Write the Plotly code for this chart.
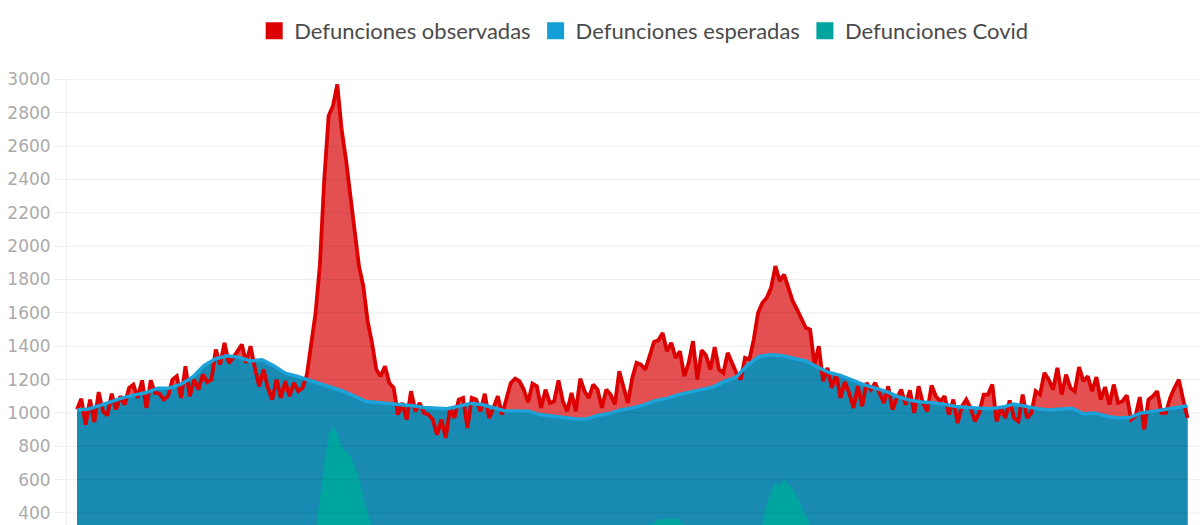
import pandas as pd
import plotly.graph_objects as go

# ---------------- data ----------------
OBS_START = "2019-10-01"      # observed deaths, one value every 3 days
observed = [
    1020, 1085, 930, 1080, 945, 1125, 1010, 985, 1115, 1020,
    1100, 1050, 1150, 1170, 1090, 1195, 1030, 1195, 1120, 1115,
    1080, 1100, 1200, 1220, 1090, 1280, 1100, 1200, 1140, 1230,
    1185, 1200, 1380, 1290, 1420, 1300, 1330, 1370, 1410, 1300,
    1400, 1270, 1160, 1260, 1150, 1080, 1200, 1090, 1190, 1100,
    1180, 1130, 1150, 1230, 1400, 1600, 1890, 2400, 2780, 2840,
    2970, 2700, 2520, 2300, 2080, 1880, 1760, 1550, 1420, 1260,
    1220, 1280, 1180, 1150, 990, 1060, 960, 1130, 1010, 1060,
    1000, 990, 960, 870, 960, 850, 1030, 970, 1080, 1090,
    910, 1090, 1080, 1010, 1115, 970, 1030, 1100, 990, 1090,
    1180, 1205, 1190, 1140, 1065, 1175, 1160, 1030, 1140, 1060,
    1070, 1195, 1070, 1010, 1120, 1010, 1205, 1130, 1090, 1170,
    1140, 1030, 1140, 1110, 1050, 1250, 1160, 1060, 1210, 1300,
    1290, 1260, 1340, 1425, 1435, 1480, 1370, 1420, 1330, 1370,
    1220, 1300, 1430, 1200, 1375, 1345, 1260, 1395, 1260, 1240,
    1360, 1300, 1240, 1200, 1330, 1320, 1440, 1600, 1660, 1690,
    1750, 1880, 1790, 1830, 1740, 1670, 1620, 1560, 1510, 1500,
    1290, 1400, 1190, 1270, 1150, 1235, 1090, 1185, 1120, 1030,
    1160, 1040, 1180, 1140, 1180, 1120, 1060, 1160, 1020, 1090,
    1140, 1050, 1135, 1000, 1160, 1060, 1010, 1165, 1100, 1070,
    1100, 990, 1080, 940, 1040, 1080, 1030, 950, 1000, 1110,
    1110, 1170, 950, 1030, 970, 1075, 970, 950, 1110, 970,
    1000, 1130, 1110, 1240, 1200, 1140, 1270, 1110, 1230, 1150,
    1130, 1275, 1190, 1220, 1130, 1215, 1080, 1155, 1050, 1170,
    1060, 1070, 1105, 960, 980, 1095, 900, 1080, 1100, 1130,
    1000, 1000, 1090, 1150, 1200, 1080, 970,
]

EXP_START = "2019-10-01"      # expected deaths, one value every 8 days
expected = [
    1017, 1024, 1045, 1070, 1092, 1108, 1122, 1148, 1150, 1172,
    1215, 1285, 1325, 1343, 1333, 1312, 1318, 1282, 1238, 1220,
    1198, 1172, 1150, 1130, 1100, 1068, 1062, 1057, 1050, 1043,
    1033, 1027, 1025, 1040, 1057, 1050, 1032, 1012, 1012, 1010,
    990, 980, 975, 965, 963, 985, 996, 1018, 1030, 1048,
    1074, 1087, 1110, 1124, 1138, 1156, 1190, 1215, 1290, 1338,
    1349, 1343, 1326, 1312, 1275, 1242, 1225, 1196, 1170, 1149,
    1128, 1097, 1076, 1066, 1061, 1050, 1038, 1032, 1028, 1025,
    1035, 1053, 1040, 1025, 1018, 1025, 1028, 995, 1000, 980,
    970, 972, 1000, 1009, 1020, 1031, 1043,
]

COVID_START = "2020-03-02"    # Covid deaths, one value every 3 days
covid = [
    0, 5, 30, 120, 280, 480, 700, 860, 925, 880,
    800, 770, 745, 680, 610, 500, 400, 310, 250, 200,
    160, 130, 100, 80, 60, 45, 35, 25, 20, 18,
    15, 12, 10, 10, 8, 8, 8, 10, 10, 12,
    12, 12, 10, 12, 15, 18, 20, 25, 30, 35,
    40, 50, 60, 70, 80, 90, 100, 110, 120, 130,
    140, 150, 160, 170, 180, 190, 200, 210, 220, 230,
    240, 250, 260, 270, 280, 290, 300, 310, 315, 320,
    325, 330, 335, 365, 360, 370, 360, 375, 350, 330,
    320, 300, 290, 280, 270, 260, 250, 240, 235, 230,
    230, 235, 240, 250, 265, 280, 310, 340, 450, 530,
    580, 560, 605, 570, 545, 500, 440, 380, 330, 290,
    260, 240, 220, 200, 180, 160, 140, 120, 100, 90,
    80, 70, 60, 55, 50, 45, 42, 40, 38, 35,
    32, 30, 30, 28, 25, 25, 22, 20, 20, 20,
    18, 18, 16, 15, 15, 15, 14, 14, 15, 16,
    18, 20, 25, 30, 35, 40, 50, 60, 70, 80,
    90, 95, 100, 100, 95, 90, 85, 80, 70, 60,
    55, 50, 45, 40, 35, 30, 28, 26, 24, 22,
    20, 18, 16, 15, 14, 13, 12, 12, 12, 11,
    11, 10, 10, 10, 10, 10,
]

series_names = ["Defunciones observadas", "Defunciones esperadas", "Defunciones Covid"]
y_ticks = [400, 600, 800, 1000, 1200, 1400, 1600, 1800, 2000, 2200,
           2400, 2600, 2800, 3000]

# ---------------- styles ----------------
RED_LINE, RED_FILL = "rgb(221,0,0)", "rgb(228,80,82)"
BLUE_LINE, BLUE_FILL = "rgb(28,163,218)", "rgb(25,138,178)"
TEAL = "rgb(0,165,160)"

obs_x = pd.date_range(OBS_START, periods=len(observed), freq="3D")
exp_x = pd.date_range(EXP_START, periods=len(expected), freq="8D")
cov_x = pd.date_range(COVID_START, periods=len(covid), freq="3D")

fig = go.Figure()
# fills first
fig.add_trace(go.Scatter(x=obs_x, y=observed, mode="lines", fill="tozeroy",
                         fillcolor=RED_FILL, line=dict(width=0),
                         showlegend=False, hoverinfo="skip"))
fig.add_trace(go.Scatter(x=exp_x, y=expected, mode="lines", fill="tozeroy",
                         fillcolor=BLUE_FILL, line=dict(width=0),
                         showlegend=False, hoverinfo="skip"))
fig.add_trace(go.Scatter(x=cov_x, y=covid, mode="lines", fill="tozeroy",
                         fillcolor=TEAL, line=dict(width=0, color=TEAL),
                         showlegend=False, hoverinfo="skip"))
# lines on top
fig.add_trace(go.Scatter(x=obs_x, y=observed, mode="lines",
                         line=dict(color=RED_LINE, width=3.8),
                         name=series_names[0], showlegend=False))
fig.add_trace(go.Scatter(x=exp_x, y=expected, mode="lines",
                         line=dict(color=BLUE_LINE, width=3.5),
                         name=series_names[1], showlegend=False))
# legend entries
for name, col in zip(series_names, [RED_LINE, "rgb(20,160,215)", TEAL]):
    fig.add_trace(go.Scatter(x=[None], y=[None], mode="markers", name=name,
                             marker=dict(symbol="square", size=14, color=col,
                                         line=dict(color=col, width=3))))

shapes = [dict(type="line", xref="paper", x0=0, x1=1, yref="y", y0=v, y1=v,
               line=dict(color="rgba(0,0,0,0.075)", width=1), layer="above")
          for v in y_ticks]

fig.update_layout(
    width=1200, height=525,
    margin=dict(l=67, r=0, t=79, b=0),
    paper_bgcolor="white", plot_bgcolor="white",
    showlegend=True,
    legend=dict(orientation="h", x=0.509, xanchor="center",
                y=1.1076, yanchor="middle",
                font=dict(family="Lato", size=22, color="#4a4a4a"),
                bgcolor="rgba(0,0,0,0)", itemwidth=30),
    xaxis=dict(type="date", range=["2019-09-24 02:00", "2021-11-15 15:00"],
               showgrid=False, showticklabels=False, zeroline=False,
               showline=False, ticks=""),
    yaxis=dict(range=[328, 3002], tickvals=y_ticks, showgrid=False,
               zeroline=False, ticks="outside", ticklen=12,
               tickcolor="rgba(0,0,0,0.07)", showline=True,
               linecolor="#eeeeee", linewidth=1,
               tickfont=dict(family="DejaVu Sans", size=17, color="#aaaaaa")),
    shapes=shapes,
    hovermode=False,
)

fig.write_html("out.html")
